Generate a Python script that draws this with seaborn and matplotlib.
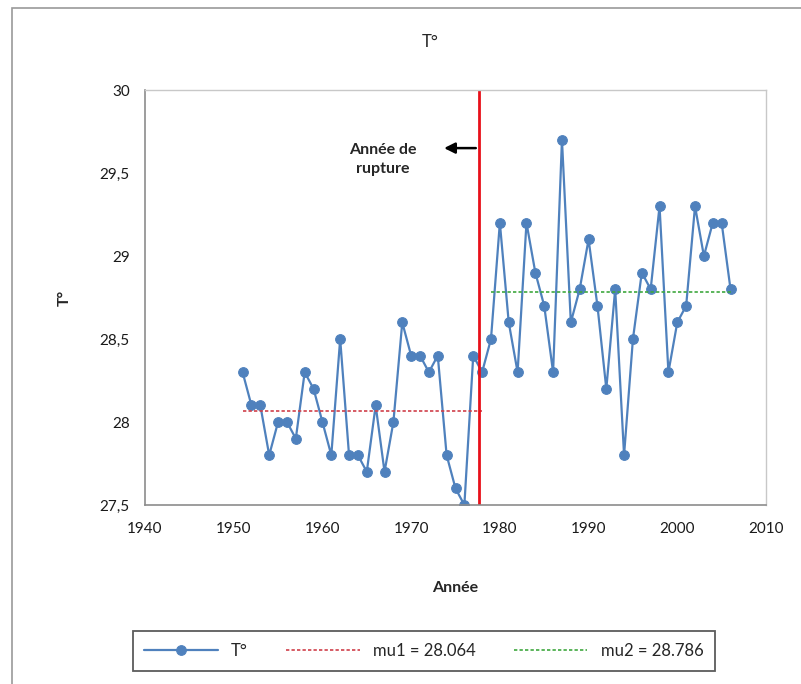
import matplotlib
matplotlib.use("Agg")
import matplotlib.pyplot as plt
import matplotlib.patches as mpatches
import matplotlib.ticker as mticker
import seaborn as sns
import pandas as pd

# data
years = list(range(1951, 2007))
temps = [28.3, 28.1, 28.1, 27.8, 28.0, 28.0, 27.9, 28.3, 28.2, 28.0,
         27.8, 28.5, 27.8, 27.8, 27.7, 28.1, 27.7, 28.0, 28.6, 28.4,
         28.4, 28.3, 28.4, 27.8, 27.6, 27.5, 28.4, 28.3, 28.5, 29.2,
         28.6, 28.3, 29.2, 28.9, 28.7, 28.3, 29.7, 28.6, 28.8, 29.1,
         28.7, 28.2, 28.8, 27.8, 28.5, 28.9, 28.8, 29.3, 28.3, 28.6,
         28.7, 29.3, 29.0, 29.2, 29.2, 28.8]
mu1 = 28.064
mu2 = 28.786
mu1_years = [1951, 1978]
mu2_years = [1979, 2006]
rupture = 1977.6
yticks = [27.5, 28, 28.5, 29, 29.5, 30]
xticks = [1940, 1950, 1960, 1970, 1980, 1990, 2000, 2010]

sns.set_style("white")
plt.rcParams['font.family'] = ['Lato', 'DejaVu Sans']

W, H = 801, 684
fig = plt.figure(figsize=(W / 100, H / 100), dpi=100)
ax = fig.add_axes([145 / W, (H - 505) / H, (766 - 145) / W, (505 - 90) / H])

df = pd.DataFrame({'Année': years, 'T': temps})
sns.lineplot(data=df, x='Année', y='T', ax=ax, color='#4F81BD', lw=1.6,
             marker='o', markersize=7, markeredgecolor='#4F81BD', label='T°')
sns.lineplot(x=mu1_years, y=[mu1, mu1], ax=ax, color='#D0404A', lw=1.2,
             linestyle=(0, (2, 1.3)), label='mu1 = 28.064')
sns.lineplot(x=mu2_years, y=[mu2, mu2], ax=ax, color='#3EA83E', lw=1.2,
             linestyle=(0, (2, 1.3)), label='mu2 = 28.786')
ax.axvline(rupture, color='#E8101A', lw=2)

ax.set_xlim(1940, 2010)
ax.set_ylim(27.5, 30)
ax.set_xticks(xticks)
ax.set_yticks(yticks)
ax.yaxis.set_major_formatter(mticker.FuncFormatter(
    lambda v, p: ('%g' % v).replace('.', ',')))
ax.tick_params(axis='both', labelsize=11, colors='#1A1A1A', length=5,
               width=1, pad=6)
ax.tick_params(axis='x', direction='inout', pad=10)
ax.tick_params(axis='both', color='#8C8C8C')
for s in ['top', 'right']:
    ax.spines[s].set_color('#C8C8C8')
    ax.spines[s].set_linewidth(1)
for s in ['left', 'bottom']:
    ax.spines[s].set_color('#8C8C8C')
    ax.spines[s].set_linewidth(1.2)

ax.set_xlabel('Année', fontsize=11.5, fontweight='bold', labelpad=32)
ax.set_ylabel('T°', fontsize=11.5, fontweight='bold', labelpad=20)
fig.text(430 / W, 1 - 42 / H, 'T°', fontsize=12, ha='center', va='center')

# rupture annotation
ax.annotate('', xy=(1973.4, 29.65), xytext=(rupture, 29.65),
            arrowprops=dict(arrowstyle='-|>', color='black', lw=1.8,
                            mutation_scale=16))
ax.text(1966.8, 29.58, 'Année de\nrupture', ha='center', va='center',
        fontsize=11.5, fontweight='bold', linespacing=1.5)

# legend box
handles, labels = ax.get_legend_handles_labels()
ax.get_legend().remove()
leg = fig.legend(handles, labels, ncol=3, loc='center',
                 bbox_to_anchor=(424 / W, 1 - 651 / H), fontsize=12,
                 frameon=True, fancybox=False, edgecolor='#333333',
                 handlelength=4.4, columnspacing=2.3, borderpad=0.7)
leg.get_frame().set_linewidth(1.3)

# outer chart border (cropped at right/bottom)
fig.patches.append(mpatches.Rectangle((12 / W, -0.1), 1.1, 1 - 8 / H + 0.1,
                                      transform=fig.transFigure, fill=False,
                                      edgecolor='#9A9A9A', lw=1.2))

fig.savefig('out.png', dpi=100)
